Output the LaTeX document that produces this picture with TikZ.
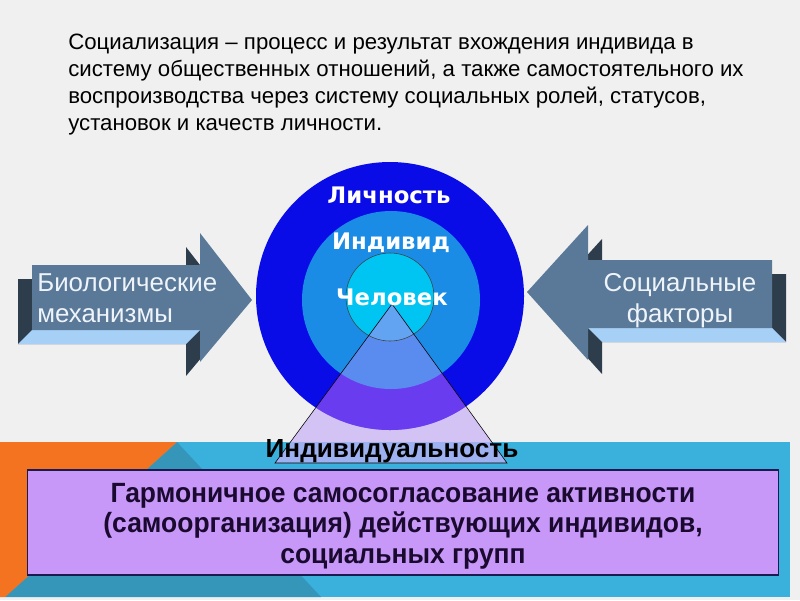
\documentclass[tikz,border=0pt]{standalone}
\usepackage{fontspec}
\setmainfont{Liberation Sans}
\newfontfamily\narrowfont[FakeStretch=0.95]{Liberation Sans}
\newfontfamily\ringfont{DejaVu Sans}
\usetikzlibrary{positioning}
\definecolor{bgGray}{HTML}{F0F0F0}
\definecolor{bandBlue}{HTML}{3AB0DC}
\definecolor{bandTeal}{HTML}{3596BA}
\definecolor{bandOrange}{HTML}{F47320}
\definecolor{boxLilac}{HTML}{C898F8}
\definecolor{boxEdge}{HTML}{1A1A50}
\definecolor{boxInk}{HTML}{1A0A30}
\definecolor{arrowFront}{HTML}{5A7898}
\definecolor{arrowDark}{HTML}{2E3D4C}
\definecolor{arrowLight}{HTML}{A6D0F6}
\definecolor{arrowInk}{HTML}{EEF4FA}
\definecolor{ringOuter}{HTML}{0A0CE8}
\definecolor{ringMid}{HTML}{1A8CE6}
\definecolor{ringInner}{HTML}{00C4F2}
\definecolor{triFill}{HTML}{C8B0F8}
\definecolor{triOuter}{HTML}{6A3CF0}
\definecolor{triMid}{HTML}{5A8CF0}
\definecolor{triInner}{HTML}{62A4F2}

\begin{document}
\begin{tikzpicture}[x=0.025cm,y=-0.025cm,
  face/.style={fill=arrowFront},
  side/.style={fill=arrowDark},
  lip/.style={fill=arrowLight},
  arrowtext/.style={text=arrowInk, inner sep=0pt, font=\fontsize{18.4}{22}\selectfont},
  ringtext/.style={text=white, inner sep=0pt, anchor=base, font=\ringfont\bfseries\fontsize{16.2}{18}\selectfont},
  box/.style={draw=boxEdge, line width=0.8pt, fill=boxLilac, minimum width=18.75cm, minimum height=2.625cm},
  boxtext/.style={text=boxInk, inner sep=0pt, anchor=base, align=center, font=\narrowfont\bfseries\fontsize{19.8}{21.6}\selectfont}
]
\useasboundingbox (0,0) rectangle (800,600);
% background
\fill[bgGray] (0,0) rectangle (800,600);
% bottom band
\fill[bandBlue] (0,442) rectangle (790,597);
\fill[bandTeal] (177,442) -- (321,597) -- (5,597) -- cycle;
\fill[bandOrange] (0,442) -- (177,442) -- (5,597) -- (0,597) -- cycle;

% definition
\node[anchor=base west, align=left, inner sep=0pt, font=\fontsize{15.8}{19.1}\selectfont] (definition) at (68,130)
  {Социализация – процесс и результат вхождения индивида в\\
   систему общественных отношений, а также самостоятельного их\\
   воспроизводства через систему социальных ролей, статусов,\\
   установок и качеств личности.};

% left arrow
\fill[side] (18,279) -- (186,279) -- (186,247) -- (238,314) -- (186,376) -- (186,344) -- (18,344) -- cycle;
\fill[lip] (32,330) -- (200,330) -- (186,344) -- (18,344) -- cycle;
\fill[face] (32,265) -- (200,265) -- (200,233) -- (252,300) -- (200,362) -- (200,330) -- (32,330) -- cycle;
\node[arrowtext, anchor=base west, align=left] (bio) at (37,322) {Биологические\\механизмы};

% right arrow
\fill[side] (541,306) -- (602,239) -- (602,274) -- (786,274) -- (786,342) -- (602,342) -- (602,374) -- cycle;
\fill[lip] (588,328) -- (772,328) -- (786,342) -- (602,342) -- cycle;
\fill[face] (527,292) -- (588,225) -- (588,260) -- (772,260) -- (772,328) -- (588,328) -- (588,360) -- cycle;
\node[arrowtext, anchor=base, align=center] (social) at (680,322) {Социальные\\факторы};

% rings
\fill[ringOuter] (390,296) circle (134);
\fill[ringMid] (391,300) circle (89);
\fill[ringInner] (390,297) circle (44);

% triangle
\fill[triFill, opacity=0.7] (392,304) -- (275,463) -- (507,463) -- cycle;
\begin{scope}
  \clip (392,304) -- (275,463) -- (507,463) -- cycle;
  \fill[triOuter] (390,296) circle (134);
  \fill[triMid] (391,300) circle (89);
  \fill[triInner] (390,297) circle (44);
\end{scope}
\draw[black!75, line width=0.4pt] (390,297) circle (44);
\draw[black, line width=0.4pt] (392,304) -- (275,463) -- (507,463) -- cycle;

\node[ringtext] (person) at (389,203) {Личность};
\node[ringtext] (individ) at (391,249) {Индивид};
\node[ringtext] (human) at (392,305) {Человек};
\node[anchor=base, inner sep=0pt, font=\bfseries\fontsize{18.6}{20}\selectfont] (individuality) at (392,457) {Индивидуальность};

% box
\node[box] (harmonyBox) at (403,522.5) {};
\node[boxtext] (harmony) at (403,563)
  {Гармоничное самосогласование активности\\
   (самоорганизация) действующих индивидов,\\
   социальных групп};
\end{tikzpicture}
\end{document}
